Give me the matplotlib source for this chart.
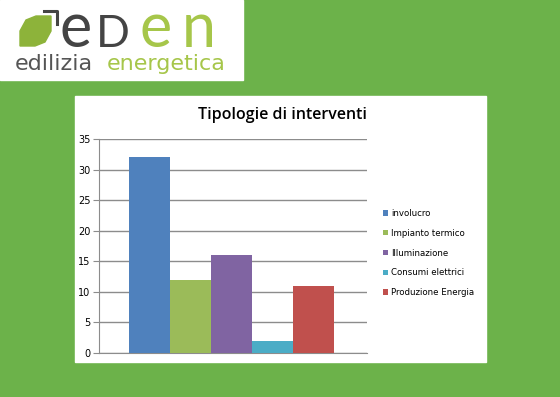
import matplotlib.pyplot as plt
from matplotlib.patches import Rectangle, Polygon

series = ['involucro', 'Impianto termico', 'Illuminazione', 'Consumi elettrici', 'Produzione Energia']
values = [32, 12, 16, 2, 11]
colors = ['#4F81BD', '#9BBB59', '#8064A2', '#4BACC6', '#C0504D']
yticks = [0, 5, 10, 15, 20, 25, 30, 35]

W, H = 560, 397
fig = plt.figure(figsize=(5.6, 3.97), dpi=100)
fig.patch.set_facecolor('#6cb24a')

# background layer in pixel coords
bg = fig.add_axes([0, 0, 1, 1])
bg.set_xlim(0, W)
bg.set_ylim(H, 0)
bg.axis('off')
bg.add_patch(Rectangle((0, 0), 243, 80, color='white'))
bg.add_patch(Rectangle((75, 96), 411, 266, color='white'))
# logo: leaf + bracket
bg.add_patch(Polygon([(20, 46), (20, 31), (26, 20), (36, 16), (51, 16), (51, 31),
                      (45, 42), (35, 46)], closed=True, color='#8db33a'))
bg.plot([44, 57, 57], [11, 11, 24], color='#444444', lw=2.2)
for ch, x0, fs, col in [('e', 60, 44, '#444444'), ('D', 96, 32, '#444444'),
                        ('e', 139, 44, '#a6c64a'), ('n', 182, 44, '#a6c64a')]:
    bg.text(x0, 47, ch, fontsize=fs, color=col, family='Lato',
            va='baseline', ha='left')
bg.text(15, 70, 'edilizia', fontsize=16, color='#555555', family='DejaVu Sans',
        va='baseline', ha='left')
bg.text(107, 70, 'energetica', fontsize=16, color='#a6c64a', family='DejaVu Sans',
        va='baseline', ha='left')

bg.text(282, 115, 'Tipologie di interventi', fontsize=11.5, color='black',
        family='Open Sans', weight='semibold', ha='center', va='center')

ax = fig.add_axes([99 / W, (H - 353) / H, 268 / W, 214 / H])
ax.set_facecolor('white')
xs = list(range(len(series)))
for x, v, c, s in zip(xs, values, colors, series):
    ax.bar(x, v, width=1.0, color=c, label=s, zorder=3)
ax.set_xlim(-0.5 - 30 / 41, 4.5 + 33 / 41)
ax.set_ylim(0, 35)
ax.set_yticks(yticks)
ax.set_xticks([])
ax.yaxis.grid(True, color='#8c8c8c', lw=1, zorder=0)
for sp in ['top', 'right']:
    ax.spines[sp].set_visible(False)
ax.spines['left'].set_color('#8c8c8c')
ax.spines['bottom'].set_color('#8c8c8c')
ax.tick_params(axis='y', labelsize=7, length=4, color='#8c8c8c', pad=2)

ax.legend(loc='center left', bbox_to_anchor=(1.03, 0.467), frameon=False, fontsize=6.2,
          handlelength=0.6, handleheight=0.6, handletextpad=0.4, labelspacing=1.25)

fig.savefig('out.png', dpi=100, facecolor=fig.get_facecolor())
